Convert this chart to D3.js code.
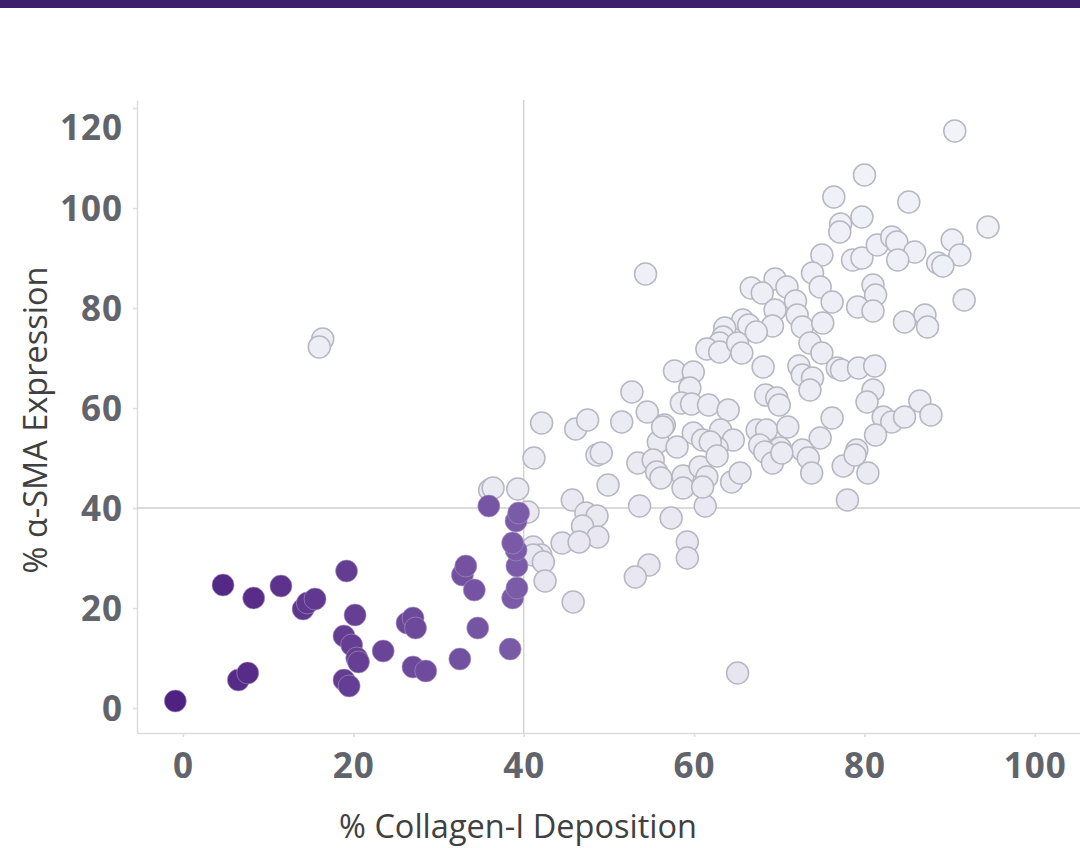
<!DOCTYPE html>
<html>
<head>
<meta charset="utf-8">
<script src="https://cdn.jsdelivr.net/npm/d3@7"></script>
<style>
  html, body { margin: 0; padding: 0; background: #fff; }
  #chart { width: 1080px; height: 848px; }
  .axis path, .axis line { stroke: #dcdcdc; stroke-width: 1.5; }
  .axis text { font-family: "Open Sans", sans-serif; font-weight: 700; font-size: 35px; fill: #62646c; letter-spacing: 1px; }
  .title { font-family: "Open Sans", sans-serif; font-size: 32.5px; fill: #404040; }
</style>
</head>
<body>
<div id="chart"></div>
<script>
// x = % Collagen-I Deposition, y = % alpha-SMA Expression
const lowPoints = [
  [-0.9,1.4],[4.7,24.6],[8.3,22],[11.5,24.4],[6.5,5.6],[7.6,7],[14.1,19.8],[14.6,21],[15.5,21.8],
  [19.2,27.4],[20.2,18.6],[18.9,14.4],[19.8,12.6],[20.4,10],[20.6,9.2],[18.9,5.6],[19.5,4.4],
  [23.5,11.4],[26.3,17],[27,18],[27.3,16],[27,8.2],[28.5,7.4],[32.5,9.8],[32.8,26.6],[33.2,28.4],
  [34.2,23.6],[34.6,16],[35.9,40.4],[38.4,11.8],[38.7,22],[39.2,24],[39.2,28.4],[39.1,31.6],
  [38.7,33],[39.1,37.4],[39.4,39]
];
const highPoints = [
  [36.0,43.6],[36.4,44],[39.3,43.8],[40.5,39.2],[42.1,57],[41.2,50],[46.1,55.8],[47.5,57.6],
  [48.6,50.6],[49.1,51],[49.9,44.6],[51.5,57.2],[52.7,63.2],[53.4,49],[53.6,40.4],[57.3,38],
  [61.3,40.4],[59.2,33.2],[59.2,30],[54.7,28.6],[53.1,26.2],[45.8,21.2],[45.7,41.6],[47.3,39],
  [48.6,38.4],[46.9,36.4],[48.7,34.2],[44.5,33],[46.5,33.2],[41.1,32.2],[42,30.6],[41.1,30.6],
  [42.3,29.2],[42.5,25.4],[16.4,73.8],[16.0,72.2],[54.3,86.8],[65.1,7],
  [90.6,115.4],[80.0,106.6],[76.4,102.2],[85.2,101.2],[94.5,96.2],[79.7,98.2],[77.2,96.8],
  [77.1,95.2],[75,90.6],[73.9,87],[74.8,84.2],[69.5,85.8],[70.9,84.2],[66.7,84],[68,83],
  [71.9,81.4],[69.5,79.6],[76.2,81.2],[72.1,78.6],[65.7,77.6],[66.4,76.6],[69.2,76.4],[72.7,76.2],
  [75.1,77],[78.6,89.6],[79.7,90],[81.5,92.6],[83.2,94.2],[83.8,93.2],[85.9,91.2],[83.9,89.6],
  [90.3,93.6],[91.2,90.6],[88.6,89],[89.2,88.4],[81,84.6],[81.3,82.6],[79.2,80.2],[81,79.4],
  [91.7,81.6],[84.7,77.2],[87.1,78.6],[87.4,76.2],[63.6,76],[63.4,74.2],[63,73],[61.5,71.8],
  [63,71.2],[65.1,73],[65.6,71],[67.3,75.2],[73.6,73],[75,71],[68.1,68.2],[72.3,68.4],[72.7,66.6],
  [73.9,66],[73.6,63.6],[76.8,68],[77.3,67.6],[79.3,68],[81.2,68.4],[81,63.6],[80.3,61.2],
  [57.7,67.4],[59.9,67.2],[59.5,64],[58.5,61],[59.7,60.8],[61.7,60.6],[64,59.6],[68.4,62.6],
  [69.7,62],[70,60.6],[76.2,58],[54.5,59.2],[56.5,56.6],[59.9,55],[63.1,55.6],[64.6,53.6],
  [67.4,55.6],[68.5,55.6],[71,56.2],[74.8,54],[82.2,58.2],[83.2,57.2],[84.7,58.2],[86.5,61.4],
  [87.8,58.6],[81.3,54.6],[79.1,51.6],[55.8,53.2],[58,52.2],[61,53.6],[62.7,52],[67.7,52.6],
  [70.1,52],[72.7,51.6],[56.3,56.2],[61.9,53.2],[55.2,49.6],[55.6,47.2],[56.1,46],[58.7,46.4],
  [58.7,44],[60.7,48.2],[61.5,46.2],[61,44.2],[64.4,45.2],[65.4,47],[62.7,50.4],[68.3,51.2],
  [69.2,49],[70.3,51],[73.4,50],[73.8,47],[77.5,48.4],[78.9,50.6],[80.4,47],[78,41.6]
];
const xTicks = [0, 20, 40, 60, 80, 100];
const yTicks = [0, 20, 40, 60, 80, 100, 120];
const threshold = 40;

const W = 1080, H = 848;
const svg = d3.select('#chart').append('svg')
  .attr('width', W).attr('height', H)
  .attr('viewBox', `0 0 ${W} ${H}`);

svg.append('rect').attr('x', 0).attr('y', 0).attr('width', W).attr('height', 8).attr('fill', '#3e1f6d');

const x = d3.scaleLinear().domain([-5.4, 105.3]).range([137, 1080]);
const y = d3.scaleLinear().domain([-5, 121.6]).range([733, 100]);

// axes
const gx = svg.append('g').attr('class', 'axis x')
  .attr('transform', `translate(0,${y.range()[0]})`)
  .call(d3.axisBottom(x).tickValues(xTicks).tickSize(4).tickSizeOuter(0));
gx.selectAll('text').attr('y', 45).attr('dy', 0);

const gy = svg.append('g').attr('class', 'axis y')
  .attr('transform', `translate(${x.range()[0]},0)`)
  .call(d3.axisLeft(y).tickValues(yTicks).tickSize(4).tickSizeOuter(0).tickPadding(10));
gy.selectAll('text').attr('dy', '0.36em')
  .filter(d => d === 120).attr('y', 19);

// threshold lines
svg.append('line')
  .attr('x1', x(threshold)).attr('x2', x(threshold))
  .attr('y1', y.range()[1]).attr('y2', y.range()[0])
  .attr('stroke', '#cfcfcf').attr('stroke-width', 1.3);
svg.append('line')
  .attr('x1', x.range()[0]).attr('x2', x.range()[1])
  .attr('y1', y(threshold)).attr('y2', y(threshold))
  .attr('stroke', '#cfcfcf').attr('stroke-width', 1.3);

// points
const purple = d3.interpolateRgb('#4f2180', '#7b5ca8');
const pale = d3.interpolateRgb('#e6e4ef', '#f1f3f9');

svg.append('g').selectAll('circle').data(highPoints).join('circle')
  .attr('cx', d => x(d[0])).attr('cy', d => y(d[1])).attr('r', 11)
  .attr('fill', d => pale(Math.max(0, Math.min(1, d[1] / 115))))
  .attr('stroke', '#b7b7c2').attr('stroke-width', 1.5);

svg.append('g').selectAll('circle').data(lowPoints).join('circle')
  .attr('cx', d => x(d[0])).attr('cy', d => y(d[1])).attr('r', 11)
  .attr('fill', d => purple(Math.max(0, Math.min(1, d[0] / 40))))
  .attr('stroke', '#a898c0').attr('stroke-opacity', 0.6).attr('stroke-width', 1);

// titles
svg.append('text').attr('class', 'title')
  .attr('x', 518).attr('y', 838).attr('text-anchor', 'middle')
  .text('% Collagen-I Deposition');
svg.append('text').attr('class', 'title')
  .attr('transform', 'translate(47,420) rotate(-90)')
  .attr('text-anchor', 'middle')
  .text('% α-SMA Expression');
</script>
</body>
</html>
